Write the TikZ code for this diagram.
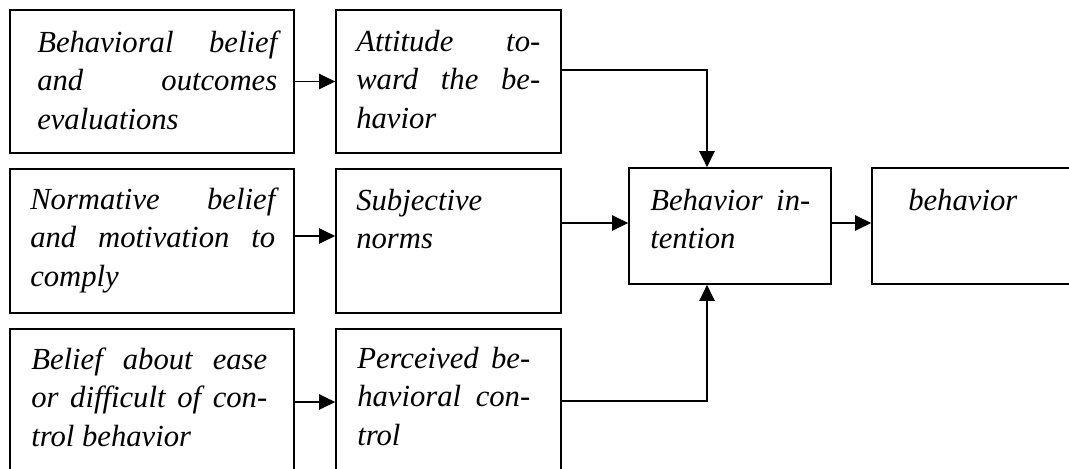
\documentclass[tikz,border=0pt]{standalone}
\usepackage{fontspec}
\setmainfont{Liberation Serif}
\usetikzlibrary{arrows.meta,fit,calc}
\newcommand{\jline}[1]{\makebox[\linewidth][s]{#1}}
\begin{document}
\begin{tikzpicture}[x=0.75pt,y=-0.75pt,
  box/.style={draw,line width=1.3pt,inner sep=0pt,rectangle},
  txt/.style={inner sep=0pt,anchor=base west,font=\fontsize{23}{29}\selectfont\itshape},
  conn/.style={line width=1pt},
  arr/.style={conn,-{Triangle[length=12pt,width=11.5pt]}}]
\useasboundingbox (0,0) rectangle (1069,468);
\clip (0,0) rectangle (1069,468);
% boxes
\node[box,fit={(10,10) (294,153)}] (A1) {};
\node[box,fit={(336,10) (561,153)}] (A2) {};
\node[box,fit={(10,169) (294,313)}] (B1) {};
\node[box,fit={(336,169) (561,313)}] (B2) {};
\node[box,fit={(10,329) (294,475)}] (C1) {};
\node[box,fit={(336,329) (561,475)}] (C2) {};
\node[box,fit={(629,168) (831,284)}] (BI) {};
\node[box,fit={(872,168) (1120,284)}] (BE) {};
% texts
\node[txt] (A1t) at (37,52) {\parbox[t]{180pt}{\jline{Behavioral belief}\\\jline{and outcomes}\\evaluations}};
\node[txt] (A2t) at (356,51) {\parbox[t]{138pt}{\jline{Attitude to-}\\\jline{ward the be-}\\havior}};
\node[txt] (B1t) at (30,209) {\parbox[t]{183.75pt}{\jline{Normative belief}\\\jline{and motivation to}\\comply}};
\node[txt] (B2t) at (356,210) {\parbox[t]{138pt}{Subjective\\norms}};
\node[txt] (C1t) at (31,369) {\parbox[t]{177pt}{\jline{Belief about ease}\\\jline{or difficult of con-}\\trol behavior}};
\node[txt] (C2t) at (357,368) {\parbox[t]{129.75pt}{\jline{Perceived be-}\\\jline{havioral con-}\\trol}};
\node[txt] (BIt) at (650,210) {\parbox[t]{120pt}{\jline{Behavior in-}\\tention}};
\node[txt] (BEt) at (908,210) {behavior};
% connectors
\draw[arr] (A1.east) -- (A2.west);
\draw[arr] ($(B1.east)+(0,-5)$) coordinate (b1o) -- (b1o -| B2.west);
\draw[arr] (C1.east) -- (C2.west);
\draw[arr] ($(A2.east)+(0,-11.5)$) -| ($(BI.north)+(-23,0)$) coordinate (bitop);
\draw[arr] ($(BI.west)+(0,-3)$) coordinate (biw) (B2.east |- biw) -- (biw);
\draw[arr] ($(BI.east)+(0,-3)$) coordinate (bie) -- (bie -| BE.west);
\draw[arr] ($(C2.east)+(0,-1)$) -| ($(BI.south)+(-23,0)$) coordinate (bibot);
\end{tikzpicture}
\end{document}
